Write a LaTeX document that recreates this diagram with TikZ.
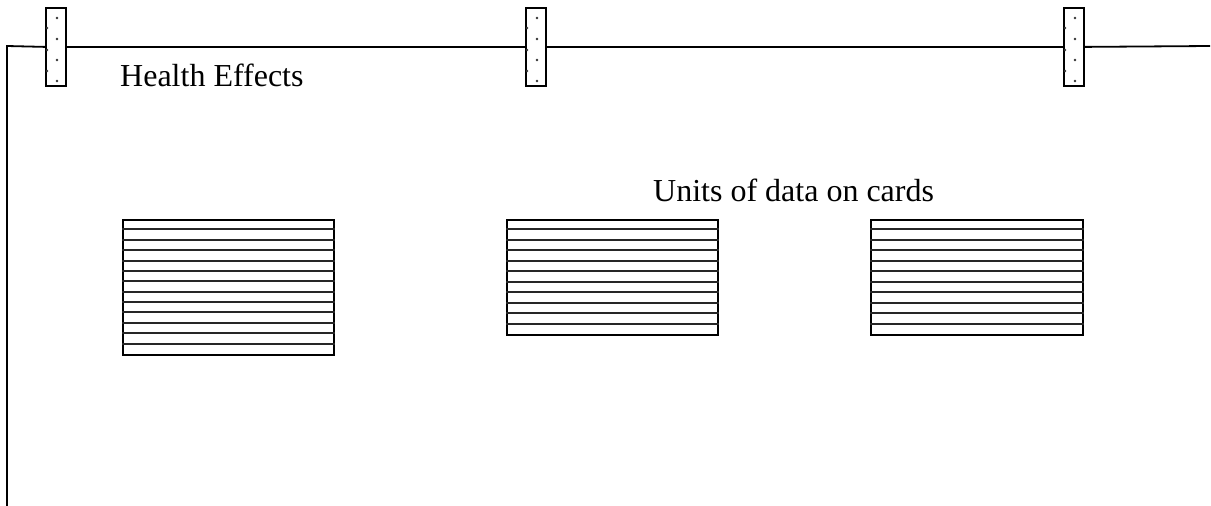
\documentclass[tikz,border=0pt]{standalone}
\usepackage{fontspec}
\setmainfont{Liberation Serif}
\begin{document}
\begin{tikzpicture}[x=1pt,y=-1pt,
  line/.style={line width=1.8pt},
  clip peg/.style={draw, line width=1.8pt, minimum width=20pt, minimum height=78pt,
    inner sep=0pt, anchor=north west, fill=white},
  card/.style={draw, line width=2pt, inner sep=0pt, anchor=north west},
  label/.style={font=\fontsize{32}{38}\selectfont, inner sep=0pt, anchor=base west},
  dot/.style={fill=black!80, radius=1.4pt}]
\useasboundingbox (0,0) rectangle (1211,506);

% the line and its pegs
\coordinate (corner) at (7,46);
\coordinate (floor) at (7,506);
\coordinate (lineend) at (1210,46);
\node[clip peg] (p1) at (45,7) {};
\node[clip peg] (p2) at (525,7) {};
\node[clip peg] (p3) at (1063,7) {};
\draw[line] (floor) -- (corner) -- (p1.west);
\draw[line] (p1.east) -- (p2.west);
\draw[line] (p2.east) -- (p3.west);
\draw[line] (p3.east) -- (lineend);
\foreach \p in {p1,p2,p3}{
  \foreach \dy in {11,32,53,74} \fill[dot] ([xshift=12pt,yshift=-\dy pt]\p.north west) circle;
  \foreach \dy in {21,43,64} \fill[dot] ([xshift=2pt,yshift=-\dy pt]\p.north west) circle;
}

% cards with ruled lines
\node[card, minimum width=211pt, minimum height=135pt] (c1) at (122,219) {};
\node[card, minimum width=211pt, minimum height=115pt] (c2) at (506,219) {};
\node[card, minimum width=212pt, minimum height=115pt] (c3) at (870,219) {};
\foreach \i in {1,...,12}
  \draw[line width=2pt, black!85] ([yshift=-\i*10.38pt]c1.north west) -- ([yshift=-\i*10.38pt]c1.north east);
\foreach \c in {c2,c3}
  \foreach \i in {1,...,10}
    \draw[line width=2pt, black!85] ([yshift=-\i*10.45pt]\c.north west) -- ([yshift=-\i*10.45pt]\c.north east);

% labels
\node[label] (health) at (120,86) {Health Effects};
\node[label] (units) at (653,201) {Units of data on cards};
\end{tikzpicture}
\end{document}
